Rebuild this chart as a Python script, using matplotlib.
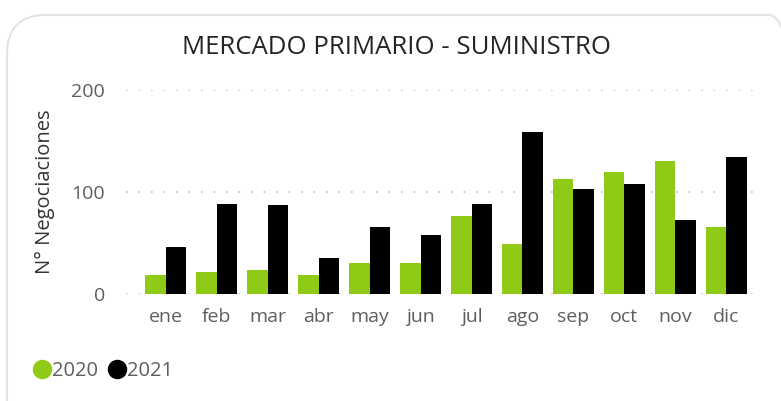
import matplotlib
matplotlib.use("Agg")
import matplotlib.pyplot as plt
import numpy as np
from matplotlib.patches import FancyBboxPatch
from matplotlib.lines import Line2D

months = ["ene", "feb", "mar", "abr", "may", "jun", "jul", "ago", "sep", "oct", "nov", "dic"]
v2020 = [19, 22, 24, 19, 30, 30, 76, 49, 113, 120, 130, 66]
v2021 = [46, 88, 87, 35, 66, 58, 88, 159, 103, 108, 73, 134]
series_names = ["2020", "2021"]
yticks = [0, 100, 200]

GREEN = "#8FCB16"
BLACK = "#000000"
TXT = "#605E5C"
FONT = "Open Sans"

W, H = 781, 401
fig = plt.figure(figsize=(W / 100, H / 100), dpi=100)
fig.patch.set_facecolor("white")

# card border
card = FancyBboxPatch((7 / W, -40 / H), (W + 20) / W, (H - 15 + 40) / H,
                      boxstyle="round,pad=0,rounding_size=0.05",
                      transform=fig.transFigure, facecolor="none",
                      edgecolor="#E3E3E3", linewidth=1.5, mutation_aspect=W / H, zorder=-5)
fig.patches.append(card)

ax = fig.add_axes([126 / W, 1 - 294 / H, (763 - 126) / W, (294 - 90) / H])
ax.set_facecolor("none")
x = np.arange(len(months))
bw = 0.4
ax.bar(x - bw / 2, v2020, width=bw, color=GREEN, zorder=3)
ax.bar(x + bw / 2, v2021, width=bw, color=BLACK, zorder=3)

ax.set_xlim(-0.78, 11.72)
ax.set_ylim(0, 200)
ax.set_yticks(yticks)
ax.set_yticklabels([str(t) for t in yticks], fontsize=14, color=TXT, family=FONT)
ax.set_xticks(x)
ax.set_xticklabels(months, fontsize=14, color=TXT, family=FONT)
ax.tick_params(axis="both", length=0)
ax.tick_params(axis="y", pad=15)
ax.tick_params(axis="x", pad=10)
for s in ax.spines.values():
    s.set_visible(False)
ax.yaxis.grid(True, linestyle=(0, (1, 6.5)), color="#BBBBBB", linewidth=1.2, zorder=0)
ax.set_axisbelow(True)
ax.set_ylabel("N° Negociaciones", fontsize=14.5, color="#333333", family=FONT, labelpad=12)

fig.text(397 / W, 1 - 47 / H, "MERCADO PRIMARIO - SUMINISTRO", ha="center", va="center",
         fontsize=18.5, color="#252423", family=FONT)

handles = [Line2D([], [], marker="o", linestyle="none", markersize=13,
                  markerfacecolor=GREEN, markeredgecolor=GREEN),
           Line2D([], [], marker="o", linestyle="none", markersize=13,
                  markerfacecolor=BLACK, markeredgecolor=BLACK)]
leg = fig.legend(handles, series_names, loc="center left", bbox_to_anchor=(22 / W, 1 - 371 / H),
                 ncol=2, frameon=False, handletextpad=-0.1, columnspacing=0.35,
                 prop={"family": FONT, "size": 14.5}, handlelength=1.2, borderaxespad=0)
for t in leg.get_texts():
    t.set_color(TXT)

fig.savefig("out.png", dpi=100)
